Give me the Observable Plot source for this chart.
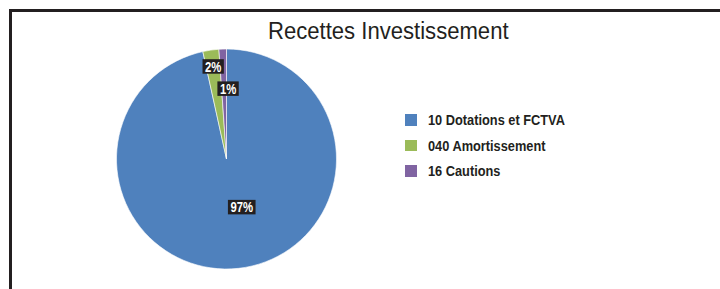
<!DOCTYPE html>
<html>
<head>
<meta charset="utf-8">
<script src="https://cdn.jsdelivr.net/npm/d3@7"></script>
<script src="https://cdn.jsdelivr.net/npm/@observablehq/plot@0.6"></script>
<style>
  html, body { margin: 0; padding: 0; background: #fff; }
  #wrap { position: relative; width: 720px; height: 289px; overflow: hidden; background: #fff;
          font-family: "Liberation Sans", Arial, sans-serif; color: #231F20; }
  #frame { position: absolute; left: 9px; top: 9px; width: 800px; height: 400px;
           border-top: 3px solid #231F20; border-left: 3px solid #231F20; box-sizing: border-box; }
  #title { position: absolute; left: 0; width: 777px; top: 16.7px; text-align: center;
           font-size: 23px; line-height: 28px; font-weight: normal; }
  #title span { display: inline-block; transform: scaleX(0.96); transform-origin: center; }
  #chart { position: absolute; left: 0; top: 0; }
  #legend { position: absolute; left: 405px; top: 107px; }
  .item { display: flex; align-items: center; height: 25.7px; font-weight: bold; font-size: 15.5px; }
  .sw { width: 11.5px; height: 11.5px; margin-right: 11px; flex: none; }
  .item span { display: inline-block; transform: scaleX(0.825); transform-origin: left center; white-space: nowrap; }
</style>
</head>
<body>
<div id="wrap">
  <div id="frame"></div>
  <div id="chart"></div>
  <div id="title"></div>
  <div id="legend"></div>
</div>
<script>
// ---- data ----
const categories = ["10 Dotations et FCTVA", "040 Amortissement", "16 Cautions"];
const shares = [96.55, 2.35, 1.1];
const labels = ["97%", "2%", "1%"];
const colors = ["#4F81BD", "#9BBB59", "#8064A2"];
const titleText = "Recettes Investissement";

// ---- layout (label radius as fraction of pie radius, pixel nudges) ----
const labelRadius = [0.44, 0.85, 0.64];
const labelDx = [10, 0, 4];
const labelSize = 14.5;
const labelSqueeze = 0.78;
const labelFamily = "'Liberation Sans', Arial, sans-serif";

const data = categories.map((c, i) => ({category: c, value: shares[i], label: labels[i], color: colors[i]}));
const arcs = d3.pie().sort(null).value(d => d.value)(data);
const labelData = arcs.map((a, i) => {
  const mid = (a.startAngle + a.endAngle) / 2;
  return {label: a.data.label, x: labelRadius[i] * Math.sin(mid), y: labelRadius[i] * Math.cos(mid), dx: labelDx[i]};
});

const ctx = document.createElement("canvas").getContext("2d");
ctx.font = `bold ${labelSize}px ${labelFamily}`;

function pieMark(index, scales) {
  const g = d3.create("svg:g");
  const cx = scales.x(0), cy = scales.y(0), r = scales.x(1) - scales.x(0);
  const arc = d3.arc().innerRadius(0).outerRadius(r);
  g.append("g").attr("transform", `translate(${cx},${cy})`)
    .selectAll("path").data(arcs).join("path")
    .attr("d", arc).attr("fill", d => d.data.color)
    .attr("stroke", "#fff").attr("stroke-width", 0.6);
  return g.node();
}
function labelMark(index, scales) {
  const g = d3.create("svg:g");
  for (const d of labelData) {
    const w = ctx.measureText(d.label).width * labelSqueeze + 5;
    const h = 14.5;
    const px = scales.x(d.x) + d.dx, py = scales.y(d.y);
    g.append("rect")
      .attr("x", px - w / 2).attr("y", py - h / 2)
      .attr("width", w).attr("height", h).attr("fill", "#231F20");
    g.append("text")
      .attr("transform", `translate(${px},${py}) scale(${labelSqueeze},1)`)
      .attr("text-anchor", "middle").attr("dy", "0.36em")
      .attr("fill", "#fff").attr("font-weight", "bold")
      .attr("font-size", labelSize).attr("font-family", labelFamily)
      .text(d.label);
  }
  return g.node();
}

const plot = Plot.plot({
  width: 720, height: 289,
  margin: 0,
  x: {domain: [-1, 1], range: [116.5, 336.5], axis: null},
  y: {domain: [-1, 1], range: [269, 49], axis: null},
  style: {background: "transparent"},
  marks: [
    pieMark,
    labelMark
  ]
});
document.getElementById("chart").appendChild(plot);

d3.select("#title").append("span").text(titleText);
const legend = d3.select("#legend");
data.forEach(d => {
  const it = legend.append("div").attr("class", "item");
  it.append("div").attr("class", "sw").style("background", d.color);
  it.append("span").text(d.category);
});
</script>
</body>
</html>
